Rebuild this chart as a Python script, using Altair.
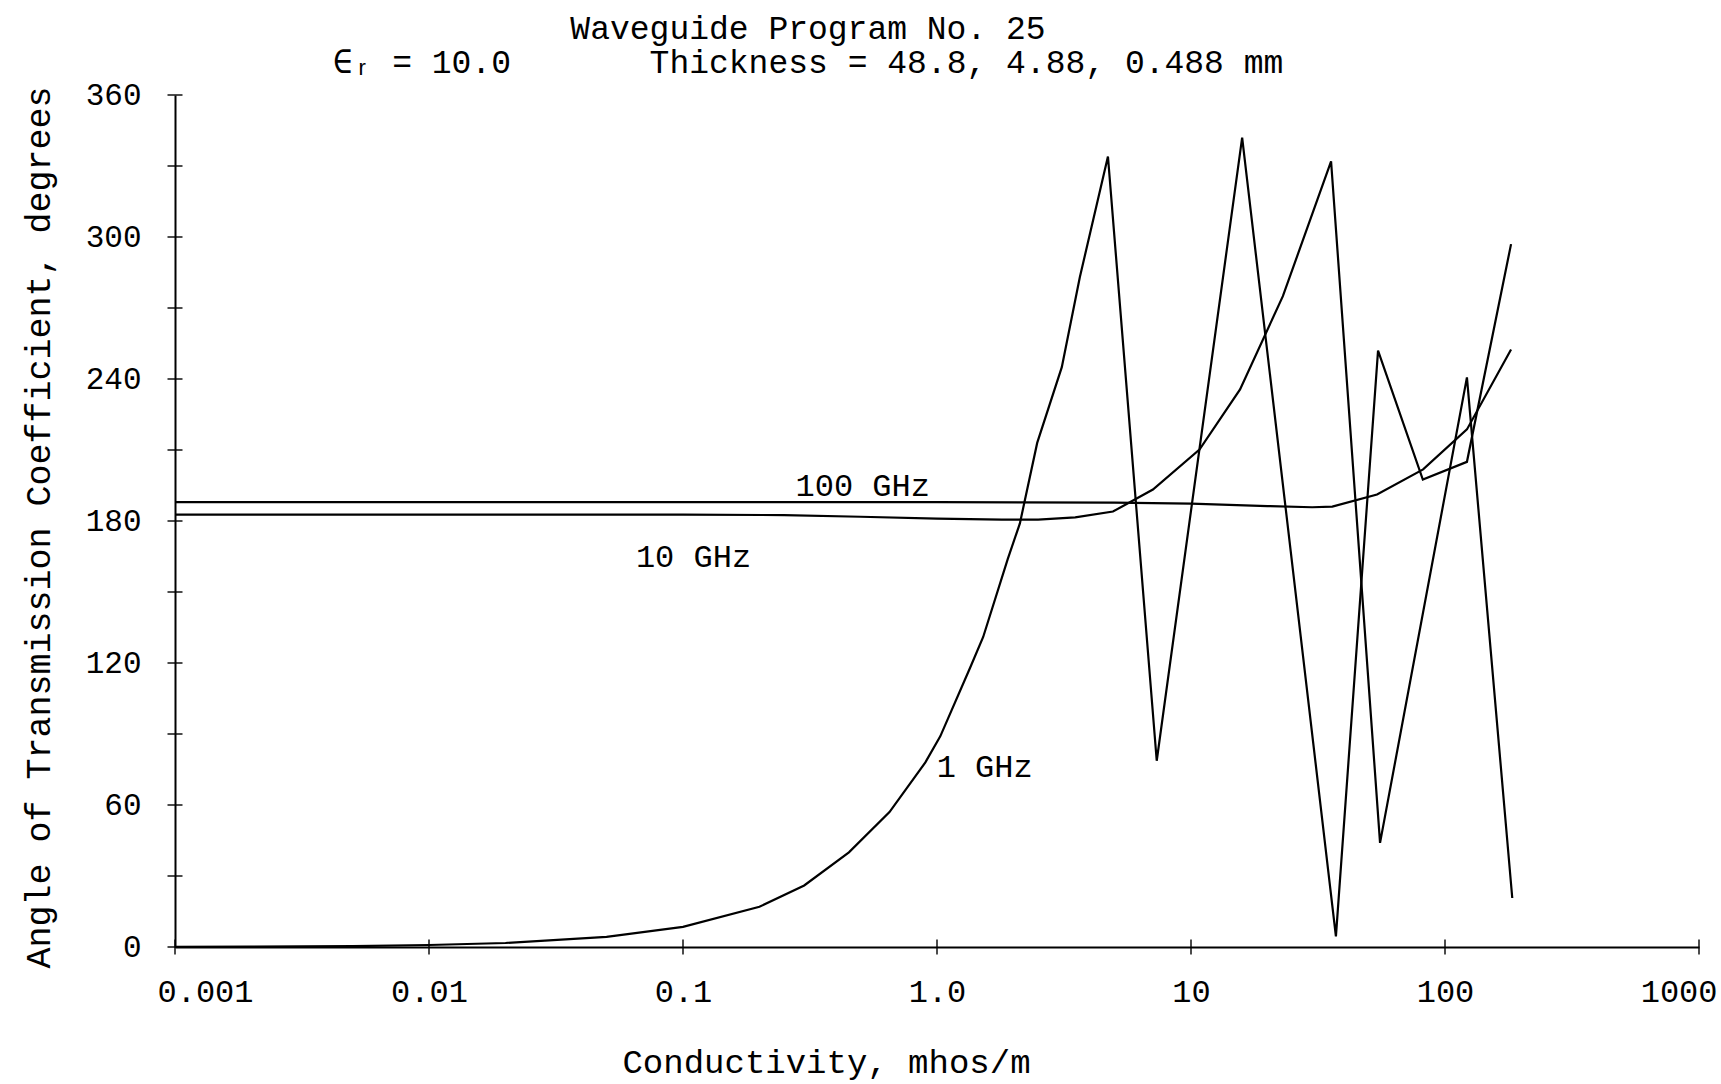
import altair as alt
import pandas as pd

# ---- data ----
SIG_1GHZ = [0.001, 0.002, 0.005, 0.01, 0.02, 0.05, 0.1, 0.2, 0.3, 0.45, 0.65, 0.9, 1.03,
            1.35, 1.52, 1.9, 2.12, 2.48, 3.1, 3.65, 4.71, 7.33, 15.9, 37.2, 54.5, 81.8, 122, 182]
ANG_1GHZ = [0.1, 0.2, 0.4, 0.85, 1.7, 4.3, 8.5, 17, 26, 40, 57, 78, 89,
            118, 131, 164, 179, 213, 245, 283, 334, 78.7, 342, 4.5, 252, 197.5, 205, 297]

SIG_10GHZ = [0.001, 0.01, 0.1, 0.25, 0.5, 1.0, 1.8, 2.5, 3.5, 4.93, 7.08, 10.8, 15.6, 23,
             35.6, 55.5, 122, 184]
ANG_10GHZ = [182.7, 182.7, 182.7, 182.5, 181.8, 181.0, 180.6, 180.6, 181.5, 184, 193.3, 210.2,
             235.6, 275, 332, 44, 240.7, 20.7]

SIG_100GHZ = [0.001, 0.01, 0.1, 1.0, 5.0, 10.0, 20.0, 30.0, 36.0, 54.0, 82.0, 122.0, 182.0]
ANG_100GHZ = [188, 188, 188, 188, 187.8, 187.3, 186.3, 185.8, 186.1, 191.2, 201.8, 218.7, 252.5]

LABEL_TEXT = ["100 GHz", "10 GHz", "1 GHz"]
LABEL_SIG = [0.51, 0.11, 1.54]
LABEL_ANG = [195, 165, 76]

X_TICKS = [0.001, 0.01, 0.1, 1, 10, 100, 1000]
X_TICK_LABELS = ["0.001", "0.01", "0.1", "1.0", "10", "100", "1000"]
Y_LABELS = [0, 60, 120, 180, 240, 300, 360]
Y_TICKS = [0, 30, 60, 90, 120, 150, 180, 210, 240, 270, 300, 330, 360]

NBSP = "\u00a0"
TITLE_LINES = ["Waveguide Program No. 25",
               "\u2208\u1d63 = 10.0" + NBSP * 7 + "Thickness = 48.8, 4.88, 0.488 mm"]
X_TITLE = "Conductivity, mhos/m"
Y_TITLE = "Angle of Transmission Coefficient, degrees"

FONT = "Liberation Mono, DejaVu Sans Mono, monospace"

# ---- tables ----
rows = []
for name, sx, sy in [("1 GHz", SIG_1GHZ, ANG_1GHZ), ("10 GHz", SIG_10GHZ, ANG_10GHZ),
                     ("100 GHz", SIG_100GHZ, ANG_100GHZ)]:
    for s, a in zip(sx, sy):
        rows.append({"series": name, "sigma": s, "angle": a})
lines_df = pd.DataFrame(rows)
labels_df = pd.DataFrame({"text": LABEL_TEXT, "sigma": LABEL_SIG, "angle": LABEL_ANG})
yt_df = pd.DataFrame({"sigma": [X_TICKS[0]] * len(Y_TICKS), "angle": Y_TICKS})
xt_df = pd.DataFrame({"sigma": X_TICKS, "angle": [0] * len(X_TICKS)})

expr = "'" + X_TICK_LABELS[-1] + "'"
for v, lab in reversed(list(zip(X_TICKS[:-1], X_TICK_LABELS[:-1]))):
    expr = f"datum.value < {v * 3.1623} ? '{lab}' : " + expr

x_enc = alt.X(
    "sigma:Q",
    scale=alt.Scale(type="log", domain=[0.001, 1000], nice=False),
    axis=alt.Axis(
        values=X_TICKS, labelExpr=expr, title=X_TITLE, grid=False,
        ticks=False, tickSize=0, labelPadding=29, labelFlush=True, labelFlushOffset=18,
        labelFont=FONT, labelFontSize=32, labelColor="black",
        titleFont=FONT, titleFontSize=34, titleFontWeight="normal", titleColor="black",
        titleX=651, titleY=115, titleBaseline="middle",
        domainColor="black", domainWidth=2,
    ),
)
y_enc = alt.Y(
    "angle:Q",
    scale=alt.Scale(domain=[0, 360], nice=False),
    axis=alt.Axis(
        values=Y_LABELS, title=Y_TITLE, grid=False, ticks=False, tickSize=0,
        labelPadding=34, labelFlush=False,
        labelFont=FONT, labelFontSize=31, labelColor="black",
        titleFont=FONT, titleFontSize=35, titleFontWeight="normal", titleColor="black",
        titleX=-137, titleY=432, titleBaseline="middle", titleAngle=-90,
        domainColor="black", domainWidth=2,
    ),
)

lines = alt.Chart(lines_df).mark_line(color="black", strokeWidth=2.2, clip=False).encode(
    x=x_enc, y=y_enc, detail="series:N", order="sigma:Q"
)
ytick = alt.Chart(yt_df).mark_tick(orient="horizontal", color="black", size=15, thickness=2).encode(
    x=x_enc, y=y_enc
)
xtick = alt.Chart(xt_df).mark_tick(orient="vertical", color="black", size=15, thickness=2).encode(
    x=x_enc, y=y_enc
)
labels = alt.Chart(labels_df).mark_text(font=FONT, fontSize=32, color="black").encode(
    x=x_enc, y=y_enc, text="text:N"
)

chart = alt.layer(lines, ytick, xtick, labels).properties(
    width=1524,
    height=852,
    title=alt.TitleParams(
        text=TITLE_LINES, font=FONT, fontSize=33, fontWeight="normal", color="black",
        anchor="middle", dx=-129, dy=21, lineHeight=34, offset=20,
    ),
    autosize=alt.AutoSizeParams(type="none"),
    padding={"left": 175, "top": 95, "right": 22, "bottom": 137},
    background="white",
).configure_view(stroke=None)

chart.save("out.html", embed_options={"renderer": "svg", "actions": False})
